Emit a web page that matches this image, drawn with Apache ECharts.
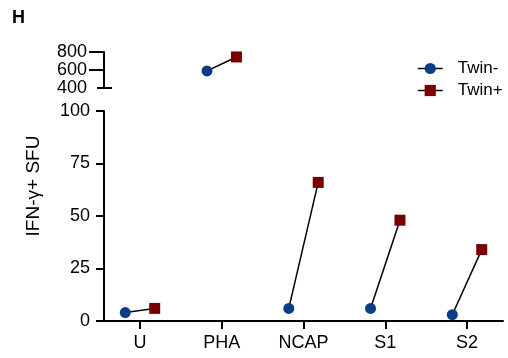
<!DOCTYPE html>
<html>
<head>
<meta charset="utf-8">
<style>
  html, body { margin: 0; padding: 0; background: #fff; }
  #chart { width: 508px; height: 358px; }
</style>
<script src="https://cdn.jsdelivr.net/npm/echarts@6/dist/echarts.min.js"></script>
</head>
<body>
<div id="chart"></div>
<script>
const categories = ['U', 'PHA', 'NCAP', 'S1', 'S2']
const twinMinus = [4, 590, 6, 6, 3]
const twinPlus = [6, 745, 66, 48, 34]
const lowTicks = [0, 25, 50, 75, 100]
const highTicks = [400, 600, 800]

const BREAK = 100
const SHIFT = 0.18
const COLOR_MINUS = '#0b3c85'
const COLOR_PLUS = '#7a0000'
const FONT = 'Liberation Sans, Arial, sans-serif'

const chart = echarts.init(document.getElementById('chart'))

// 0 = top segment (400-800), 1 = bottom segment (0-100)
function axisFor(v) { return v > BREAK ? 0 : 1 }

function markerSeries(name, values, dx, symbol, color, seg) {
  const data = []
  values.forEach((v, i) => {
    if (axisFor(v) === seg) data.push([i + dx, v])
  })
  return {
    name,
    type: 'line',
    xAxisIndex: seg,
    yAxisIndex: seg,
    data,
    symbol,
    symbolSize: 11,
    showSymbol: true,
    itemStyle: { color, opacity: 1 },
    lineStyle: { opacity: 0 },
    z: 5,
    silent: true
  }
}

const series = []
categories.forEach((c, i) => {
  const seg = axisFor(Math.max(twinMinus[i], twinPlus[i]))
  series.push({
    type: 'line',
    xAxisIndex: seg,
    yAxisIndex: seg,
    data: [[i - SHIFT, twinMinus[i]], [i + SHIFT, twinPlus[i]]],
    symbol: 'none',
    lineStyle: { color: '#000', width: 1.5 },
    z: 2,
    silent: true
  })
})
for (const seg of [0, 1]) {
  series.push(markerSeries('Twin-', twinMinus, -SHIFT, 'circle', COLOR_MINUS, seg))
  series.push(markerSeries('Twin+', twinPlus, SHIFT, 'rect', COLOR_PLUS, seg))
}

const xBase = {
  type: 'value',
  min: -0.44,
  max: 4.44,
  splitLine: { show: false }
}

const yLabel = { fontSize: 18, color: '#000', showMinLabel: true, showMaxLabel: true, hideOverlap: false }

chart.setOption({
  animation: false,
  textStyle: { fontFamily: FONT },
  grid: [
    { left: 104, right: 5, top: 52, height: 36 },
    { left: 104, right: 5, top: 111, height: 210 }
  ],
  legend: {
    data: ['Twin-', 'Twin+'],
    orient: 'vertical',
    left: 412,
    top: 55,
    itemWidth: 25,
    itemHeight: 14,
    itemGap: 5,
    lineStyle: { color: '#000', width: 1.5, opacity: 1 },
    textStyle: { fontSize: 17, color: '#000', fontFamily: FONT, padding: [0, 0, 0, 10] }
  },
  graphic: [
    {
      type: 'text', left: 12, top: 9,
      style: { text: 'H', fontSize: 18, fontWeight: 'bold', fill: '#000', fontFamily: FONT }
    },
    {
      type: 'text', x: 34, y: 186, rotation: Math.PI / 2,
      style: {
        text: 'IFN-\u03b3+ SFU', fontSize: 19, fill: '#000', fontFamily: FONT,
        align: 'center', verticalAlign: 'middle'
      }
    }
  ],
  xAxis: [
    Object.assign({}, xBase, { gridIndex: 0, show: false }),
    Object.assign({}, xBase, {
      gridIndex: 1,
      axisLine: { onZero: false, lineStyle: { color: '#000', width: 2 } },
      axisTick: { show: true, length: 8, lineStyle: { width: 2, color: '#000' }, customValues: [0, 1, 2, 3, 4] },
      axisLabel: {
        customValues: [0, 1, 2, 3, 4],
        formatter: v => categories[Math.round(v)],
        fontSize: 18, color: '#000', margin: 13
      }
    })
  ],
  yAxis: [
    {
      type: 'value', gridIndex: 0, min: 400, max: 800, interval: 200,
      splitLine: { show: false },
      axisLine: { show: true, onZero: false, lineStyle: { color: '#000', width: 2 } },
      axisTick: { show: true, length: 15, lineStyle: { width: 2, color: '#000' }, customValues: [600, 800] },
      axisLabel: Object.assign({ customValues: highTicks, margin: 17 }, yLabel)
    },
    {
      type: 'value', gridIndex: 1, min: 0, max: 100, interval: 25,
      splitLine: { show: false },
      axisLine: { show: true, onZero: false, lineStyle: { color: '#000', width: 2 } },
      axisTick: { show: true, length: 8, lineStyle: { width: 2, color: '#000' }, customValues: lowTicks },
      axisLabel: Object.assign({ customValues: lowTicks, margin: 14 }, yLabel)
    },
    {
      // break cap at 400
      type: 'value', gridIndex: 0, min: 400, max: 800, position: 'left', offset: -8,
      splitLine: { show: false },
      axisLine: { show: false, onZero: false },
      axisTick: { show: true, length: 15, lineStyle: { width: 2, color: '#000' }, customValues: [400] },
      axisLabel: { show: false }
    }
  ],
  series
})
</script>
</body>
</html>
